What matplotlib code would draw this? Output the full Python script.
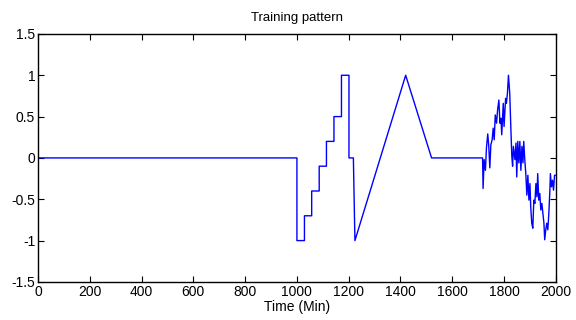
import matplotlib
matplotlib.use('Agg')
import matplotlib.pyplot as plt


# deterministic part: zero, staircase, ramp, triangle
base_time = [0, 1000, 1000, 1029, 1029, 1057, 1057, 1086, 1086, 1114, 1114,
             1143, 1143, 1172, 1172, 1201, 1201, 1218, 1224, 1420, 1520, 1717]
base_value = [0, 0, -1, -1, -0.7, -0.7, -0.4, -0.4, -0.1, -0.1, 0.2,
              0.2, 0.5, 0.5, 1.0, 1.0, 0, 0, -1, 1.0, 0, 0]

# noisy tail
noise_time = [1719, 1723, 1728, 1732, 1737, 1741, 1745, 1749, 1754, 1758,
              1762, 1766, 1771, 1775, 1780, 1784, 1788, 1791, 1797, 1800,
              1806, 1809, 1813, 1817, 1822, 1826, 1830, 1833, 1836, 1842,
              1846, 1849, 1853, 1857, 1861, 1865, 1869, 1873, 1876, 1880,
              1884, 1888, 1892, 1896, 1900, 1903, 1907, 1911, 1915, 1919,
              1923, 1927, 1930, 1934, 1938, 1942, 1946, 1950, 1954, 1957,
              1961, 1965, 1969, 1973, 1977, 1979, 1983, 1987, 1991, 1995,
              1997]
noise_value = [-0.37, -0.02, -0.15, 0.12, 0.29, 0.14, -0.12, 0.16, 0.22, 0.36,
               0.22, 0.52, 0.42, 0.58, 0.70, 0.42, 0.48, 0.28, 0.66, 0.38,
               0.72, 0.66, 0.78, 1.0, 0.78, 0.38, 0.02, -0.10, 0.14, -0.02,
               0.18, -0.23, 0.20, -0.06, 0.20, -0.15, 0.14, -0.06, 0.20, -0.02,
               -0.19, -0.45, -0.21, -0.51, -0.31, -0.59, -0.79, -0.85, -0.51, -0.55,
               -0.31, -0.47, -0.19, -0.51, -0.43, -0.63, -0.55, -0.67, -0.79, -0.99,
               -0.87, -0.79, -0.87, -0.67, -0.39, -0.19, -0.35, -0.27, -0.39, -0.21,
               -0.21]

x_ticks = [0, 200, 400, 600, 800, 1000, 1200, 1400, 1600, 1800, 2000]
y_ticks = [-1.5, -1, -0.5, 0, 0.5, 1, 1.5]
y_labels = ['-1.5', '-1', '-0.5', '0', '0.5', '1', '1.5']


def main():
    plt.rcParams['font.family'] = ['Liberation Sans', 'DejaVu Sans']
    fig = plt.figure(figsize=(5.76, 3.2), dpi=100)
    ax = fig.add_axes([0.066, 0.119, 0.899, 0.775])

    ax.plot(base_time + noise_time, base_value + noise_value,
            color='#0000ff', linewidth=1.0)

    ax.set_xlim(0, 2000)
    ax.set_ylim(-1.5, 1.5)
    ax.set_xticks(x_ticks)
    ax.set_xticklabels([str(t) for t in x_ticks])
    ax.set_yticks(y_ticks)
    ax.set_yticklabels(y_labels)
    ax.tick_params(direction='in', top=True, right=True, length=4,
                   width=0.8, labelsize=10, pad=2)
    for s in ax.spines.values():
        s.set_linewidth(1.0)

    ax.set_title('Training pattern', fontsize=9.5, pad=9)
    ax.set_xlabel('Time (Min)', fontsize=10, labelpad=1)

    fig.savefig('out.png', dpi=100)
    plt.close(fig)
    return 0


if __name__ == "__main__":
    main()
